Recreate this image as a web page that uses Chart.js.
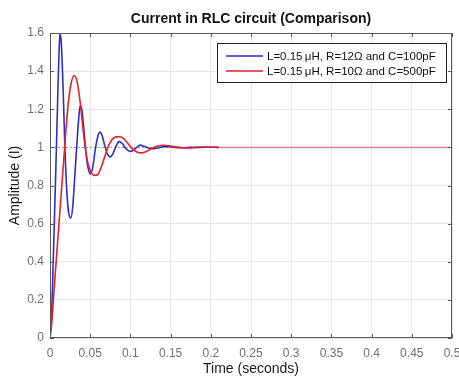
<!DOCTYPE html>
<html>
<head>
<meta charset="utf-8">
<script src="https://cdn.jsdelivr.net/npm/chart.js@4.4.1/dist/chart.umd.min.js"></script>
<style>
  html, body { margin: 0; padding: 0; background: #fff; }
  canvas { display: block; }
</style>
</head>
<body>
<canvas id="grafico" width="459" height="376"></canvas>
<script>
// Resposta ao degrau - circuito 1 (L=0.15uH, R=12, C=100pF)
const tempoAzul = [0, 0.002, 0.004, 0.006, 0.008, 0.010, 0.0115, 0.0125, 0.014, 0.016, 0.0185, 0.021, 0.0235, 0.026,
  0.0285, 0.031, 0.0335, 0.0355, 0.0375, 0.0395, 0.042, 0.0445, 0.047, 0.050, 0.053, 0.056, 0.059, 0.062, 0.065,
  0.068, 0.0715, 0.075, 0.078, 0.082, 0.086, 0.090, 0.094, 0.100, 0.105, 0.108, 0.112, 0.117, 0.122, 0.128, 0.134,
  0.140, 0.147, 0.155, 0.163, 0.175, 0.190, 0.210];
const correnteAzul = [0, 0.12, 0.4, 0.7, 1.0, 1.33, 1.53, 1.6, 1.55, 1.35, 1.0, 0.76, 0.65, 0.63,
  0.7, 0.86, 1.02, 1.14, 1.22, 1.2, 1.1, 0.98, 0.9, 0.86, 0.89, 0.98, 1.05, 1.08, 1.06,
  1.01, 0.965, 0.95, 0.965, 1.005, 1.03, 1.02, 0.995, 0.978, 0.99, 1.0, 1.012, 1.006, 0.997, 0.993, 0.997,
  1.003, 1.004, 1.0, 0.998, 1.0, 1.002, 1.0];

// Resposta ao degrau - circuito 2 (L=0.15uH, R=10, C=500pF)
const tempoVermelho = [0, 0.002, 0.005, 0.008, 0.011, 0.014, 0.017, 0.020, 0.023, 0.026, 0.030, 0.034, 0.038,
  0.042, 0.046, 0.050, 0.055, 0.060, 0.064, 0.068, 0.072, 0.077, 0.082, 0.087, 0.092, 0.097, 0.102, 0.108,
  0.114, 0.120, 0.127, 0.134, 0.142, 0.150, 0.160, 0.170, 0.180, 0.195, 0.210];
const correnteVermelho = [0, 0.07, 0.25, 0.42, 0.59, 0.76, 0.93, 1.1, 1.24, 1.33, 1.377, 1.34, 1.22,
  1.06, 0.94, 0.88, 0.853, 0.86, 0.9, 0.95, 1.0, 1.04, 1.055, 1.056, 1.045, 1.02, 0.995, 0.976,
  0.971, 0.978, 0.995, 1.007, 1.011, 1.007, 1.0, 0.997, 0.998, 1.001, 1.0];

// Valor de regime e limites do eixo do tempo
const valorRegime = 1;
const fimSimulacao = 0.21;
const fimEixo = 0.5;

// Marcas dos eixos
const ticksX = [0, 0.05, 0.1, 0.15, 0.2, 0.25, 0.3, 0.35, 0.4, 0.45, 0.5];
const ticksY = [0, 0.2, 0.4, 0.6, 0.8, 1, 1.2, 1.4, 1.6];

const rotulos = ['L=0.15\u2009\u03bcH, R=12\u03a9 and C=100pF', 'L=0.15\u2009\u03bcH, R=10\u03a9 and C=500pF'];

const fonte = '"Liberation Sans", Arial, sans-serif';
const corAzul = '#2e2ec6';
const corVermelho = '#e3222c';
const corEixo = '#5a5a5a';
const corGrade = '#e6e6e6';
const corTexto = '#707070';

// Junta os vetores de tempo e corrente em pontos {x, y}
function pontos(tempos, valores) {
    return tempos.map((t, i) => ({ x: t, y: valores[i] }));
}

// Moldura estilo MATLAB: caixa, marcas internas, legenda e título
const moldura = {
    id: 'moldura',
    afterDatasetsDraw(chart) {
        const { ctx, chartArea: a, scales } = chart;
        ctx.save();

        // Caixa em volta da área do gráfico
        ctx.strokeStyle = corEixo;
        ctx.lineWidth = 1;
        ctx.strokeRect(Math.round(a.left) + 0.5, Math.round(a.top) + 0.5,
            Math.round(a.right - a.left) - 1, Math.round(a.bottom - a.top) - 1);

        // Marcas para dentro nos quatro lados
        const tam = 4;
        ctx.beginPath();
        ticksX.forEach(v => {
            const px = Math.round(scales.x.getPixelForValue(v)) + 0.5;
            ctx.moveTo(px, a.bottom); ctx.lineTo(px, a.bottom - tam);
            ctx.moveTo(px, a.top); ctx.lineTo(px, a.top + tam);
        });
        ticksY.forEach(v => {
            const py = Math.round(scales.y.getPixelForValue(v)) + 0.5;
            ctx.moveTo(a.left, py); ctx.lineTo(a.left + tam, py);
            ctx.moveTo(a.right, py); ctx.lineTo(a.right - tam, py);
        });
        ctx.stroke();

        // Legenda dentro do gráfico, canto superior direito
        const lx = 217.5, ly = 43.5, lw = 229, lh = 39;
        ctx.fillStyle = '#fff';
        ctx.fillRect(lx, ly, lw, lh);
        ctx.strokeStyle = '#222';
        ctx.strokeRect(lx, ly, lw, lh);
        ctx.font = '11.5px ' + fonte;
        ctx.textBaseline = 'middle';
        ctx.textAlign = 'left';
        [0, 1].forEach(i => {
            const ds = chart.data.datasets[i];
            const y = 56 + i * 15;
            ctx.strokeStyle = ds.borderColor;
            ctx.lineWidth = 1.5;
            ctx.beginPath();
            ctx.moveTo(226, y); ctx.lineTo(263, y);
            ctx.stroke();
            ctx.fillStyle = '#111';
            ctx.fillText(ds.label, 267, y + 0.5);
        });

        // Título centrado sobre a área do gráfico
        ctx.fillStyle = '#111';
        ctx.font = 'bold 14px ' + fonte;
        ctx.textAlign = 'center';
        ctx.fillText('Current in RLC circuit (Comparison)', (a.left + a.right) / 2, 19);
        ctx.restore();
    }
};

const canvas = document.getElementById('grafico');

new Chart(canvas, {
    type: 'line',
    data: {
        datasets: [
            { label: rotulos[0], data: pontos(tempoAzul, correnteAzul), borderColor: corAzul, borderWidth: 1.6, order: 2 },
            { label: rotulos[1], data: pontos(tempoVermelho, correnteVermelho), borderColor: corVermelho, borderWidth: 1.6, order: 1 },
            // linha pontilhada do valor final
            { label: 'regime', data: [{ x: 0, y: valorRegime }, { x: fimEixo, y: valorRegime }],
              borderColor: '#9c9c9c', borderWidth: 1, borderDash: [2, 2], order: 3 },
            { label: 'regime2', data: [{ x: fimSimulacao, y: valorRegime }, { x: fimEixo, y: valorRegime }],
              borderColor: '#e48a9e', borderWidth: 1.5, order: 0 }
        ]
    },
    options: {
        responsive: false,
        animation: false,
        elements: {
            point: { radius: 0 },
            line: { cubicInterpolationMode: 'monotone', fill: false }
        },
        layout: { padding: { top: 33, right: 7, left: 0, bottom: 0 } },
        plugins: {
            legend: { display: false },
            tooltip: { enabled: false },
            title: { display: false }
        },
        scales: {
            x: {
                type: 'linear',
                min: 0,
                max: fimEixo,
                afterBuildTicks: s => { s.ticks = ticksX.map(v => ({ value: v })); },
                afterFit: s => { s.height = 38; s.paddingLeft = 0; s.paddingRight = 0; },
                grid: { color: corGrade, drawTicks: false },
                border: { display: false },
                ticks: {
                    padding: 8,
                    color: corTexto,
                    autoSkip: false,
                    maxRotation: 0,
                    font: { family: fonte, size: 12 },
                    callback: v => String(+v.toFixed(2))
                },
                title: {
                    display: true,
                    text: 'Time (seconds)',
                    color: '#1a1a1a',
                    font: { family: fonte, size: 14, lineHeight: 1 },
                    padding: { top: 0, bottom: 0 }
                }
            },
            y: {
                type: 'linear',
                min: 0,
                max: 1.6,
                afterBuildTicks: s => { s.ticks = ticksY.map(v => ({ value: v })); },
                afterFit: s => { s.width = 50; },
                grid: { color: corGrade, drawTicks: false },
                border: { display: false },
                ticks: {
                    padding: 6,
                    color: corTexto,
                    font: { family: fonte, size: 12 },
                    callback: v => String(+v.toFixed(1))
                },
                title: {
                    display: true,
                    text: 'Amplitude (I)',
                    color: '#1a1a1a',
                    font: { family: fonte, size: 14 },
                    padding: { top: 7, bottom: 0 }
                }
            }
        }
    },
    plugins: [moldura]
});
</script>
</body>
</html>
